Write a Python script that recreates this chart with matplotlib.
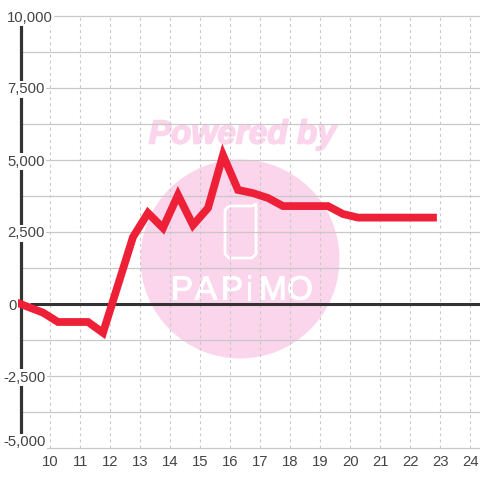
import matplotlib
matplotlib.use("Agg")
import matplotlib.pyplot as plt
from matplotlib.patches import Circle, PathPatch
from matplotlib.path import Path
from matplotlib.transforms import Affine2D
import matplotlib.patheffects as pe

hours = [9.0, 9.75, 10.25, 11.25, 11.75, 12.75, 13.25, 13.75, 14.25, 14.75, 15.25, 15.75,
         16.25, 16.75, 17.25, 17.75, 19.25, 19.75, 20.25, 22.75]
values = [0, -300, -625, -625, -1000, 2325, 3160, 2640, 3785, 2740, 3333, 5170,
          3960, 3850, 3680, 3400, 3400, 3125, 3000, 3000]
x_ticks = list(range(10, 25))
y_major = [-5000, -2500, 0, 2500, 5000, 7500, 10000]
y_minor = [-3750, -1250, 1250, 3750, 6250, 8750]
y_labels = ["-5,000", "-2,500", "0", "2,500", "5,000", "7,500", "10,000"]
y_label_left = [3, 3, 8, 7, 7, 7, 7]
y_label_shift = [5.5, -1.5, -1.5, -1.5, -1.5, -1.5, -1.5]
watermark_top = "Powered by"
watermark_letters = "PAPiMO"
letter_centres = [182, 206, 232, 249, 273, 300]

plt.rcParams['font.family'] = ['Liberation Sans', 'DejaVu Sans']
fig = plt.figure(figsize=(4.8, 4.8), dpi=100, facecolor='white')
ax = fig.add_axes([20.5/480, 1-448/480, (480-20.5)/480, (448-16)/480])
ax.patch.set_alpha(0)
ax.set_xlim(9.0, 24.317)
ax.set_ylim(-5000, 10000)
for s in ax.spines.values():
    s.set_visible(False)

px = Affine2D().scale(1, -1).translate(0, 480)
pink = '#fbd5ec'
fig.add_artist(Circle((240, 259), 99.5, transform=px, fc=pink, ec='none', zorder=-5))
phone = Path([(229, 206), (252, 206), (256, 204), (256, 254), (252, 258), (229, 258),
              (225, 254), (225, 210), (229, 206)], closed=False)
fig.add_artist(PathPatch(phone, transform=px, fc='none', ec='white', lw=2, joinstyle='round', zorder=-4))
fig.text(242.5, 480-135, watermark_top, transform=None, color=pink, fontsize=24, fontweight='bold',
         fontstyle='italic', ha='center', va='center', zorder=-4,
         path_effects=[pe.withStroke(linewidth=1.2, foreground=pink)])
for ch, xp in zip(watermark_letters, letter_centres):
    fig.text(xp, 480-291, ch, transform=None, color='white', fontsize=24, ha='center', va='center',
             zorder=-4, path_effects=[pe.withStroke(linewidth=0.8, foreground='white')])

grid_c = '#c8c8c8'
for v in y_major + y_minor:
    ax.axhline(v, color=grid_c, lw=0.9, zorder=1, clip_on=False)
for h in x_ticks:
    ax.axvline(h, color=grid_c, lw=0.8, ls=(0, (2.5, 3)), zorder=1)

ax.axvline(9.0, color='#333333', lw=2.3, zorder=2, clip_on=False, ymin=0.03, ymax=0.981)
ax.hlines(0, 9.317, 24.317, color='#333333', lw=2.2, zorder=2)
ax.plot(hours, values, color='#ee2038', lw=5.6, solid_joinstyle='miter', zorder=3, clip_on=False)

ax.set_xticks(x_ticks)
ax.set_yticks([])
ax.tick_params(axis='x', length=0, labelsize=10.7, labelcolor='#444444', pad=5)
for v, l, lft, dy in zip(y_major, y_labels, y_label_left, y_label_shift):
    ax.annotate(l, (0, v), xycoords=('axes pixels', 'data'), xytext=(lft - 20.5, dy), textcoords='offset pixels',
                ha='left', va='center', fontsize=10.7, color='#444444', zorder=4, annotation_clip=False,
                bbox=dict(fc='white', ec='none', pad=1))
fig.savefig('out.png', dpi=100)
